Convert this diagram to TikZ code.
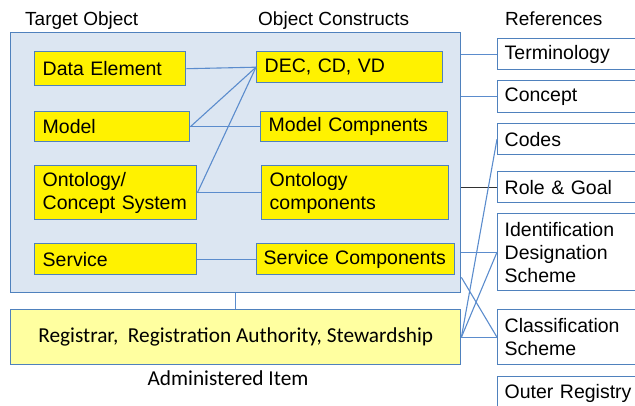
\documentclass[tikz,border=0pt]{standalone}
\usepackage{fontspec}
\setmainfont{Liberation Sans}
\newfontfamily\calf{Carlito}
\usetikzlibrary{calc}
\definecolor{boxblue}{RGB}{79,129,189}
\definecolor{lineblue}{RGB}{91,140,205}
\definecolor{bgblue}{RGB}{220,230,242}
\definecolor{paleyellow}{RGB}{255,255,160}
\definecolor{darkline}{RGB}{50,50,50}
\begin{document}
\begin{tikzpicture}[x=1pt,y=-1pt,
  base/.style={anchor=north west, inner ysep=0pt, line width=1.4pt, draw=boxblue, align=left, font=\fontsize{19.5}{23}\selectfont},
  ybox/.style={base, fill=yellow, inner xsep=8pt},
  rbox/.style={base, fill=white, inner xsep=7pt, text width=136pt},
  conn/.style={draw=lineblue, line width=1.1pt},
  darkconn/.style={draw=darkline, line width=1.1pt},
  hdr/.style={anchor=base west, inner sep=0pt, font=\fontsize{19}{23}\selectfont},
  calnode/.style={font=\calf\fontsize{21.3}{25}\selectfont},
]
\useasboundingbox (0,0) rectangle (635,405);
\clip (0,0) rectangle (635,405);

% headers
\node[hdr] (h1) at (25,25) {Target Object};
\node[hdr] (h2) at (258,25) {Object Constructs};
\node[hdr] (h3) at (505,25) {References};

% main container
\node[base, fill=bgblue, minimum width=450pt, minimum height=260pt] (target) at (10,32) {};

% left column
\node[ybox, text width=135pt, minimum height=34pt] (de) at (34,51) {Data Element};
\node[ybox, text width=139pt, minimum height=30pt] (model) at (34,111) {Model};
\node[ybox, text width=146pt, minimum height=54pt] (onto) at (34,165) {Ontology/\\Concept System};
\node[ybox, text width=146pt, minimum height=31pt] (serv) at (34,243) {Service};

% right column
\node[ybox, text width=170pt, minimum height=31pt] (dec) at (256,51) {DEC, CD, VD};
\node[ybox, text width=171pt, minimum height=30pt] (modc) at (260,111) {Model Compnents};
\node[ybox, text width=171pt, minimum height=54pt] (ontoc) at (261,165) {Ontology\\components};
\node[ybox, inner xsep=7pt, text width=184pt, minimum height=31pt] (servc) at (256,243) {Service Components};

% administered item
\node[base, calnode, fill=paleyellow, minimum width=450pt, minimum height=55pt] (reg) at (10,309) {Registrar,\ \ Registration Authority, Stewardship};
\node[calnode, anchor=base, inner sep=0pt] (adm) at (228,385) {Administered Item};

% references
\node[rbox, minimum height=31pt] (term) at (497,38) {Terminology};
\node[rbox, minimum height=32pt] (conc) at (497,80) {Concept};
\node[rbox, minimum height=31pt] (codes) at (497,123) {Codes};
\node[rbox, minimum height=31pt] (role) at (497,171) {Role \& Goal};
\node[rbox, minimum height=77pt] (ids) at (497,213) {Identification\\Designation\\Scheme};
\node[rbox, minimum height=55pt] (cls) at (497,309) {Classification\\Scheme};
\node[rbox, minimum height=34pt] (outer) at (497,376) {Outer Registry};

% connectors inside
\draw[conn] (de.east) -- (dec.west);
\draw[conn] (model.east) -- (dec.west);
\draw[conn] (model.east) -- (modc.west);
\draw[conn] (onto.east) -- (dec.west);
\draw[conn] (onto.east) -- (ontoc.west);
\draw[conn] (serv.east) -- (servc.west);
\draw[conn] (target.south) -- (reg.north);

% connectors to references
\draw[conn] (target.east |- term.west) -- (term.west);
\draw[conn] (target.east |- conc.west) -- (conc.west);
\draw[darkconn] (target.east |- role.west) -- (role.west);
\draw[conn] (target.east |- ids.west) -- (ids.west);
\draw[conn] ($(target.south east)+(0,-16)$) -- (cls.west);
\draw[conn] (reg.east) -- (codes.west);
\draw[conn] (reg.east) -- (ids.west);
\draw[conn] (reg.east) -- (cls.west);
\end{tikzpicture}
\end{document}
